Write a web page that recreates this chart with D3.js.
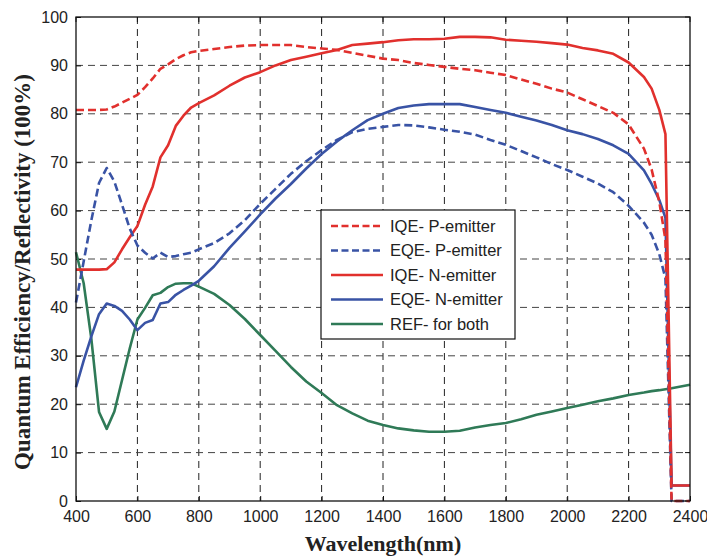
<!DOCTYPE html>
<html>
<head>
<meta charset="utf-8">
<script src="https://cdn.jsdelivr.net/npm/d3@7"></script>
<style>
  body { margin: 0; background: #fff; }
  svg { display: block; }
</style>
</head>
<body>
<svg id="chart" width="707" height="557"></svg>
<script>
// wavelength samples (nm)
const wavelength = [400, 425, 450, 475, 500, 525, 550, 575, 600, 625, 650, 675, 700, 725, 750, 775, 800,
  850, 900, 950, 1000, 1050, 1100, 1150, 1200, 1250, 1300, 1350, 1400, 1450, 1500, 1550, 1600, 1650,
  1700, 1750, 1800, 1850, 1900, 1950, 2000, 2050, 2100, 2150, 2200, 2250, 2275, 2300, 2320, 2340, 2400];

const iqeP = [80.8, 80.8, 80.8, 80.8, 80.9, 81.5, 82.3, 83.1, 83.9, 85.5, 87.3, 89.3, 90.2, 91.3, 92.1, 92.7, 93.0,
  93.4, 93.8, 94.1, 94.2, 94.2, 94.2, 93.8, 93.5, 93.2, 92.6, 92.0, 91.4, 91.1, 90.5, 90.1, 89.7, 89.3,
  89.0, 88.5, 88.0, 87.1, 86.2, 85.2, 84.4, 83.0, 81.6, 80.2, 77.8, 72.8, 68.5, 61.8, 54.0, 0, 0];

const eqeP = [41.0, 49.5, 58.0, 65.7, 68.8, 66.0, 61.2, 56.3, 52.8, 51.3, 50.1, 51.3, 50.4, 50.6, 51.0, 51.3, 52.0,
  53.3, 55.3, 58.0, 61.4, 64.5, 67.6, 70.2, 72.5, 74.6, 76.2, 76.9, 77.3, 77.7, 77.6, 77.2, 76.7, 76.3,
  75.7, 74.6, 73.6, 72.3, 71.0, 69.6, 68.4, 67.0, 65.6, 63.8, 61.0, 57.5, 55.0, 51.0, 46.0, 0, 0];

const iqeN = [47.8, 47.8, 47.8, 47.8, 47.9, 49.3, 52.0, 54.5, 56.8, 61.2, 65.0, 71.0, 73.5, 77.5, 79.6, 81.3, 82.2,
  83.8, 85.8, 87.5, 88.6, 90.0, 91.1, 91.8, 92.5, 93.2, 94.2, 94.5, 94.8, 95.2, 95.4, 95.4, 95.5, 95.9,
  95.9, 95.8, 95.3, 95.1, 94.9, 94.6, 94.3, 93.6, 93.1, 92.4, 90.6, 87.6, 85.2, 80.8, 75.8, 3.2, 3.2];

const eqeN = [23.5, 29.0, 34.0, 38.6, 40.8, 40.3, 39.3, 37.5, 35.3, 36.8, 37.4, 40.8, 41.1, 42.6, 43.6, 44.5, 45.5,
  48.5, 52.3, 55.7, 59.2, 62.5, 65.5, 68.7, 71.7, 74.3, 76.6, 78.7, 80.0, 81.2, 81.7, 82.0, 82.0, 82.0,
  81.4, 80.8, 80.2, 79.4, 78.6, 77.7, 76.6, 75.8, 74.8, 73.5, 71.7, 68.3, 65.5, 62.2, 58.5, 3.2, 3.2];

const ref = [51.4, 45.0, 33.5, 18.4, 14.9, 18.5, 25.0, 31.5, 37.5, 39.9, 42.5, 43.0, 44.2, 44.9, 45.0, 45.0, 44.3,
  42.8, 40.5, 37.6, 34.3, 31.0, 27.7, 24.7, 22.3, 19.8, 18.1, 16.6, 15.7, 15.0, 14.6, 14.3, 14.3, 14.5,
  15.2, 15.7, 16.1, 16.9, 17.8, 18.5, 19.2, 19.9, 20.6, 21.2, 21.9, 22.4, 22.7, 22.9, 23.1, 23.3, 24.0];

const seriesNames = ["IQE- P-emitter", "EQE- P-emitter", "IQE- N-emitter", "EQE- N-emitter", "REF- for both"];
const xTicks = [400, 600, 800, 1000, 1200, 1400, 1600, 1800, 2000, 2200, 2400];
const yTicks = [0, 10, 20, 30, 40, 50, 60, 70, 80, 90, 100];

const red = "#e1302d", blue = "#3953a5", green = "#2f7a57";
const series = [
  { name: seriesNames[0], values: iqeP, color: red, dash: "8,4" },
  { name: seriesNames[1], values: eqeP, color: blue, dash: "8,4" },
  { name: seriesNames[2], values: iqeN, color: red, dash: null },
  { name: seriesNames[3], values: eqeN, color: blue, dash: null },
  { name: seriesNames[4], values: ref, color: green, dash: null }
];

const svg = d3.select("#chart");
const margin = { top: 17, right: 17, bottom: 56, left: 76 };
const width = 707 - margin.left - margin.right;
const height = 557 - margin.top - margin.bottom;

const x = d3.scaleLinear().domain([400, 2400]).range([0, width]);
const y = d3.scaleLinear().domain([0, 100]).range([height, 0]);

const g = svg.append("g")
  .attr("transform", "translate(" + margin.left + "," + margin.top + ")");

// grid
g.append("g")
  .selectAll("line")
  .data(xTicks.slice(1, -1))
  .enter().append("line")
  .attr("x1", d => x(d)).attr("x2", d => x(d))
  .attr("y1", 0).attr("y2", height)
  .attr("stroke", "#222").attr("stroke-width", 1)
  .attr("stroke-dasharray", "7,5");

g.append("g")
  .selectAll("line")
  .data(yTicks.slice(1, -1))
  .enter().append("line")
  .attr("x1", 0).attr("x2", width)
  .attr("y1", d => y(d)).attr("y2", d => y(d))
  .attr("stroke", "#444").attr("stroke-width", 1)
  .attr("stroke-dasharray", "7,5");

// axes, ticks inside like matlab
const xAxis = g.append("g")
  .attr("transform", "translate(0," + height + ")")
  .call(d3.axisBottom(x).tickValues(xTicks).tickSize(-5).tickPadding(10).tickFormat(d3.format("d")));

const yAxis = g.append("g")
  .call(d3.axisLeft(y).tickValues(yTicks).tickSize(-5).tickPadding(8));

[xAxis, yAxis].forEach(a => {
  a.select(".domain").remove();
  a.selectAll("line").attr("stroke", "#111");
  a.selectAll("text")
    .attr("font-family", "Liberation Sans, Arial, sans-serif")
    .attr("font-size", 16)
    .attr("fill", "#222");
});

// top/right ticks
g.append("g").selectAll("line").data(xTicks).enter().append("line")
  .attr("x1", d => x(d)).attr("x2", d => x(d)).attr("y1", 0).attr("y2", 5)
  .attr("stroke", "#111");
g.append("g").selectAll("line").data(yTicks).enter().append("line")
  .attr("x1", width).attr("x2", width - 5).attr("y1", d => y(d)).attr("y2", d => y(d))
  .attr("stroke", "#111");

// lines
const line = d3.line()
  .x((d, i) => x(wavelength[i]))
  .y(d => y(d));

g.append("g")
  .selectAll("path")
  .data(series.slice().reverse())
  .enter().append("path")
  .attr("fill", "none")
  .attr("stroke", d => d.color)
  .attr("stroke-width", 2.6)
  .attr("stroke-linejoin", "round")
  .attr("stroke-dasharray", d => d.dash)
  .attr("d", d => line(d.values));

// frame
g.append("rect")
  .attr("width", width).attr("height", height)
  .attr("fill", "none").attr("stroke", "#111").attr("stroke-width", 1.3);

// legend
const legend = svg.append("g").attr("transform", "translate(321,210)");
legend.append("rect")
  .attr("width", 194).attr("height", 129)
  .attr("fill", "#fff").attr("stroke", "#111").attr("stroke-width", 1.2);

const item = legend.selectAll("g.item")
  .data(series)
  .enter().append("g")
  .attr("class", "item")
  .attr("transform", (d, i) => "translate(0," + (16 + i * 24.5) + ")");

item.append("line")
  .attr("x1", 10).attr("x2", 62)
  .attr("stroke", d => d.color)
  .attr("stroke-width", 2.6)
  .attr("stroke-dasharray", d => d.dash ? "7,3.5" : null);

item.append("text")
  .attr("x", 69)
  .attr("dy", "0.36em")
  .attr("font-family", "Liberation Sans, Arial, sans-serif")
  .attr("font-size", 16.5)
  .attr("fill", "#222")
  .text(d => d.name);

// axis titles
svg.append("text")
  .attr("x", 383)
  .attr("y", 551)
  .attr("text-anchor", "middle")
  .attr("font-family", "Liberation Serif, Times New Roman, serif")
  .attr("font-weight", "bold")
  .attr("font-size", 22)
  .attr("fill", "#222")
  .text("Wavelength(nm)");

svg.append("text")
  .attr("transform", "translate(30,272) rotate(-90)")
  .attr("text-anchor", "middle")
  .attr("font-family", "Liberation Serif, Times New Roman, serif")
  .attr("font-weight", "bold")
  .attr("font-size", 23)
  .attr("fill", "#222")
  .text("Quantum Efficiency/Reflectivity (100%)");
</script>
</body>
</html>
